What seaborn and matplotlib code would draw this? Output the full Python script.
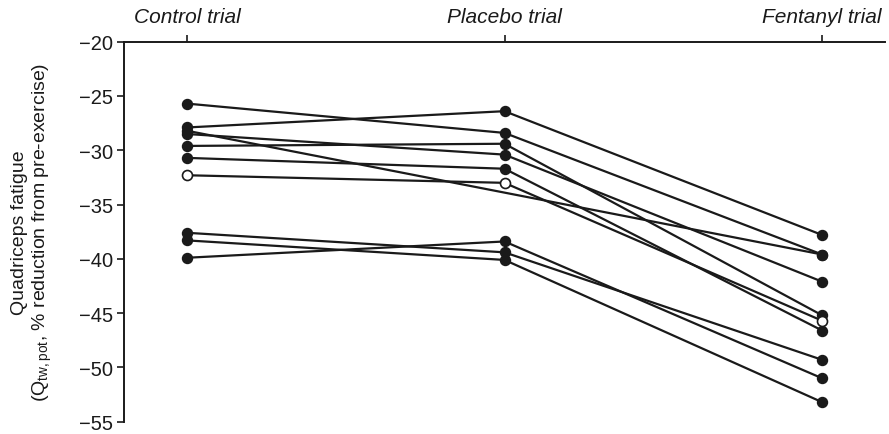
import numpy as np
import pandas as pd
import matplotlib
matplotlib.use("Agg")
import matplotlib.pyplot as plt
import seaborn as sns

# Quadriceps fatigue per subject across the three trials (NaN = no placebo value)
trials = ["Control trial", "Placebo trial", "Fentanyl trial"]
subject = [1, 2, 3, 4, 5, 6, 7, 8, 9, 10]
control = [-25.7, -27.9, -28.5, -29.6, -30.7, -32.3, -37.6, -38.3, -39.9, -28.2]
placebo = [-28.4, -26.4, -30.4, -29.4, -31.7, -33.0, -39.4, -40.1, -38.4, np.nan]
fentanyl = [-39.6, -37.8, -42.1, -45.2, -46.6, -45.7, -49.3, -53.2, -51.0, -39.6]
open_subject = [6]
yticks = [-20, -25, -30, -35, -40, -45, -50, -55]

rows = []
for i, s in enumerate(subject):
    for t, vals in enumerate([control, placebo, fentanyl]):
        v = vals[i]
        if not np.isnan(v):
            rows.append({"subject": s, "trial": t, "fatigue": v,
                         "open": s in open_subject})
df = pd.DataFrame(rows)

sns.set_style("ticks")
plt.rcParams["font.family"] = ["Liberation Sans", "DejaVu Sans"]
plt.rcParams["mathtext.fontset"] = "custom"
plt.rcParams["mathtext.rm"] = "Liberation Sans"
plt.rcParams["mathtext.it"] = "Liberation Sans:italic"

fig = plt.figure(figsize=(8.89, 4.35), dpi=100)
ax = fig.add_axes([124 / 889, 1 - 422.7 / 435, (885 - 124) / 889, (422.7 - 42.7) / 435])

ink = "#1a1a1a"
filled = df[~df["open"]]
hollow = df[df["open"]]
sns.lineplot(data=filled, x="trial", y="fatigue", units="subject", estimator=None,
             color=ink, lw=1.6, marker="o", markersize=7.2, markeredgecolor=ink,
             markerfacecolor=ink, markeredgewidth=1.0, ax=ax, legend=False)
sns.lineplot(data=hollow, x="trial", y="fatigue", units="subject", estimator=None,
             color=ink, lw=1.6, marker="o", markersize=7.2, markeredgecolor=ink,
             markerfacecolor="white", markeredgewidth=1.2, ax=ax, legend=False, zorder=3)

ax.set_xlim(-0.198, 2.198)
ax.set_ylim(-55, -20)
ax.set_yticks(yticks)
ax.set_yticklabels([f"\u2212{abs(v)}" for v in yticks], fontsize=14.5)
ax.xaxis.tick_top()
ax.set_xticks([0, 1, 2])
ax.set_xticklabels(trials, fontsize=15, fontstyle="italic")
ax.tick_params(axis="x", length=5, width=1.2, pad=6, colors=ink)
ax.tick_params(axis="y", length=5, width=1.2, pad=3, colors=ink)
ax.set_xlabel("")
ax.set_ylabel("Quadriceps fatigue\n(Q$_{\\mathrm{tw,pot}}$, % reduction from pre-exercise)",
              fontsize=14, color=ink, linespacing=1.2)
ax.yaxis.set_label_coords(-0.092, 0.5)

for side in ["bottom", "right"]:
    ax.spines[side].set_visible(False)
for side in ["top", "left"]:
    ax.spines[side].set_linewidth(1.4)
    ax.spines[side].set_color(ink)

fig.savefig("out.png", dpi=100)
